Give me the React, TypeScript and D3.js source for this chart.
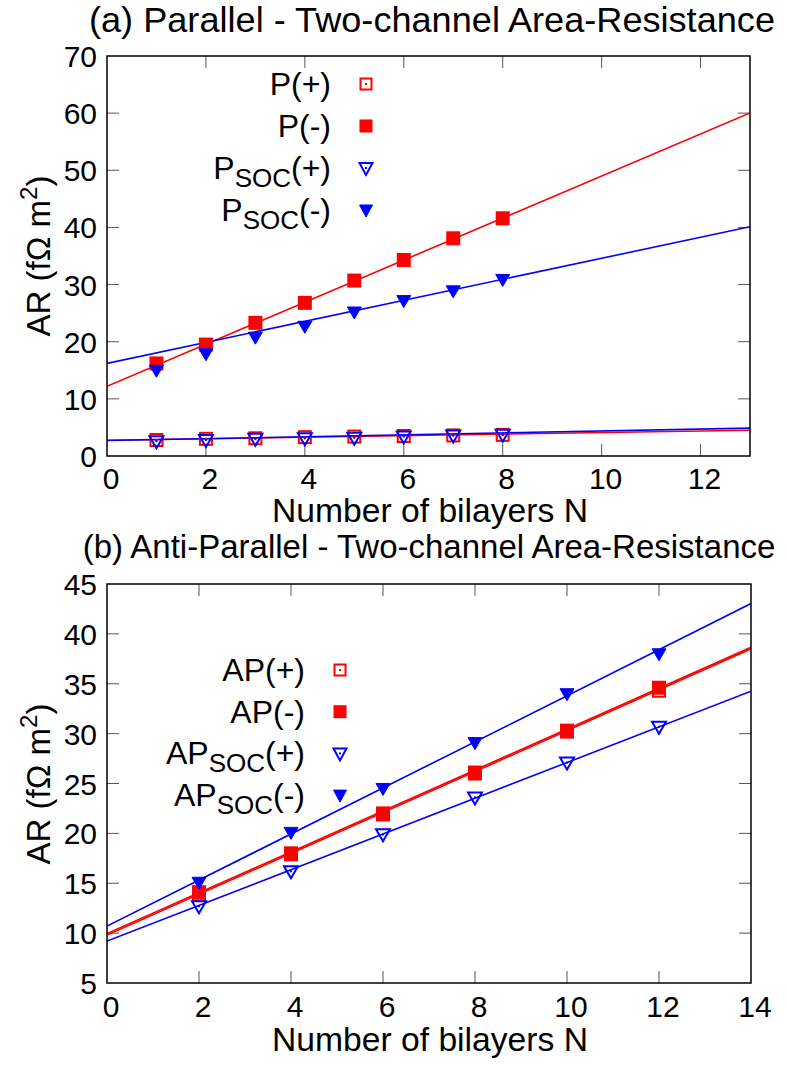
import React from "react";
import * as d3 from "d3";

// ---------- Panel (a) data ----------
const nA = [1, 2, 3, 4, 5, 6, 7, 8];
const pPlus = [2.8, 3.0, 3.1, 3.3, 3.4, 3.5, 3.6, 3.7];
const pMinus = [16.2, 19.5, 23.3, 26.8, 30.7, 34.3, 38.1, 41.6];
const pSocPlus = [2.6, 2.8, 3.0, 3.1, 3.2, 3.4, 3.6, 3.7];
const pSocMinus = [15.0, 17.9, 20.8, 22.7, 25.2, 27.2, 28.9, 30.9];
// fit lines: [intercept, slope]
const pPlusFit = [2.75, 0.135];
const pMinusFit = [12.2, 3.68];
const pSocPlusFit = [2.7, 0.168];
const pSocMinusFit = [16.2, 1.84];
const xTicksA = [0, 2, 4, 6, 8, 10, 12];
const yTicksA = [0, 10, 20, 30, 40, 50, 60, 70];

// ---------- Panel (b) data ----------
const nB = [2, 4, 6, 8, 10, 12];
const apPlus = [13.9, 17.9, 21.9, 26.0, 30.2, 34.3];
const apMinus = [14.1, 18.0, 22.0, 26.1, 30.3, 34.6];
const apSocPlus = [12.7, 16.2, 19.9, 23.6, 27.1, 30.7];
const apSocMinus = [15.1, 20.1, 24.5, 29.1, 34.0, 38.0];
const apPlusFit = [9.8, 2.05];
const apMinusFit = [9.95, 2.05];
const apSocPlusFit = [9.2, 1.79];
const apSocMinusFit = [10.7, 2.31];
const xTicksB = [0, 2, 4, 6, 8, 10, 12, 14];
const yTicksB = [5, 10, 15, 20, 25, 30, 35, 40, 45];

const RED = "#ff0000";
const BLUE = "#0000ff";
const FONT = "'Liberation Sans', Arial, Helvetica, sans-serif";

type Kind = "openSq" | "fillSq" | "openTri" | "fillTri";

function Marker({ kind, x, y, s = 14 }: { kind: Kind; x: number; y: number; s?: number }) {
  const h = s / 2;
  if (kind === "openSq" || kind === "fillSq") {
    const filled = kind === "fillSq";
    return (
      <g>
        <rect
          x={x - h + (filled ? 0 : 1)}
          y={y - h + (filled ? 0 : 1)}
          width={s - (filled ? 0 : 2)}
          height={s - (filled ? 0 : 2)}
          fill={filled ? RED : "none"}
          stroke={filled ? "none" : RED}
          strokeWidth={2}
        />
        {!filled && <rect x={x - 1} y={y - 1} width={2} height={2} fill={RED} />}
      </g>
    );
  }
  const filled = kind === "fillTri";
  const w = s / 2;
  const pts = `${x - w},${y - 5} ${x + w},${y - 5} ${x},${y + 7}`;
  return (
    <g>
      <polygon
        points={pts}
        fill={filled ? BLUE : "none"}
        stroke={BLUE}
        strokeWidth={filled ? 1 : 2}
        strokeLinejoin="miter"
      />
      {!filled && <rect x={x - 1} y={y - 1} width={2} height={2} fill={BLUE} />}
    </g>
  );
}

type Series = { ns: number[]; vals: number[]; fit: number[]; kind: Kind; color: string; main: string; sub?: string; tail: string };

function Panel({
  x, y, xmax, ticksX, ticksY, series, title, titleX, titleY, titleSize, titleLen, legX, legLabelX, legY0, legDy, xTickBase, xLabelBase, yLabelCenter,
}: {
  x: d3.ScaleLinear<number, number>;
  y: d3.ScaleLinear<number, number>;
  xmax: number;
  ticksX: number[];
  ticksY: number[];
  series: Series[];
  title: string;
  titleX: number;
  titleY: number;
  titleSize: number;
  titleLen?: number;
  legX: number;
  legLabelX: number;
  legY0: number;
  legDy: number;
  xTickBase: number;
  xLabelBase: number;
  yLabelCenter: number;
}) {
  const [x0, x1] = x.range();
  const [yb, yt] = y.range();
  const tick = 12;
  const cid = "clip" + title.slice(1, 2);
  return (
    <g fontFamily={FONT} fill="#000">
      {/* title */}
      <text
        x={titleX}
        y={titleY}
        textAnchor="middle"
        fontSize={titleSize}
        textLength={titleLen}
        lengthAdjust={titleLen ? "spacingAndGlyphs" : undefined}
      >
        {title}
      </text>
      {/* ticks */}
      {ticksX.map((t) => (
        <g key={"x" + t}>
          {t > 0 && t < xmax && (
            <>
              <line x1={x(t)} x2={x(t)} y1={yb} y2={yb - tick} stroke="#555" strokeWidth={1} />
              <line x1={x(t)} x2={x(t)} y1={yt} y2={yt + tick} stroke="#555" strokeWidth={1} />
            </>
          )}
          <text x={x(t) + 4} y={xTickBase} textAnchor="middle" fontSize={30}>
            {t}
          </text>
        </g>
      ))}
      {ticksY.map((t) => (
        <g key={"y" + t}>
          {t > y.domain()[0] && t < y.domain()[1] && (
            <>
              <line x1={x0} x2={x0 + tick} y1={y(t)} y2={y(t)} stroke="#555" strokeWidth={1} />
              <line x1={x1} x2={x1 - tick} y1={y(t)} y2={y(t)} stroke="#555" strokeWidth={1} />
            </>
          )}
          <text x={97} y={y(t) + 11} textAnchor="end" fontSize={30}>
            {t}
          </text>
        </g>
      ))}
      {/* axis labels */}
      <text x={430} y={xLabelBase} textAnchor="middle" fontSize={33} textLength={316} lengthAdjust="spacingAndGlyphs">
        Number of bilayers N
      </text>
      <text transform={`translate(50,${yLabelCenter}) rotate(-90)`} textAnchor="middle" fontSize={33}>
        AR (fΩ m<tspan dy={-13} fontSize={24}>2</tspan>
        <tspan dy={13}>)</tspan>
      </text>
      {/* fit lines and points */}
      <defs>
        <clipPath id={cid}>
          <rect x={x0} y={yt} width={x1 - x0} height={yb - yt} />
        </clipPath>
      </defs>
      <g clipPath={`url(#${cid})`}>
        {series.map((s, i) => (
          <path
            key={"l" + i}
            d={`M${x(0)},${y(s.fit[0])}L${x(xmax)},${y(s.fit[0] + s.fit[1] * xmax)}`}
            stroke={s.color}
            strokeWidth={1.6}
            fill="none"
          />
        ))}
        {series.map((s, i) => (
          <g key={"m" + i}>
            {s.ns.map((n, j) => (
              <Marker key={j} kind={s.kind} x={x(n)} y={y(s.vals[j])} />
            ))}
          </g>
        ))}
      </g>
      {/* frame */}
      <rect x={x0} y={yt} width={x1 - x0} height={yb - yt} fill="none" stroke="#000" strokeWidth={1.5} />
      {/* legend */}
      {series.map((s, i) => {
        const cy = legY0 + i * legDy;
        return (
          <g key={"lg" + i}>
            <text x={legLabelX} y={cy + 11} textAnchor="end" fontSize={32}>
              {s.main}
              {s.sub && (
                <tspan dy={8} fontSize={26}>
                  {s.sub}
                </tspan>
              )}
              <tspan dy={s.sub ? -8 : 0}>{s.tail}</tspan>
            </text>
            <Marker kind={s.kind} x={legX} y={cy} s={13} />
          </g>
        );
      })}
    </g>
  );
}

export default function App() {
  const xA = d3.scaleLinear().domain([0, 13]).range([107, 750]);
  const yA = d3.scaleLinear().domain([0, 70]).range([456, 56]);
  const xB = d3.scaleLinear().domain([0, 14]).range([107, 751]);
  const yB = d3.scaleLinear().domain([5, 45]).range([983, 584]);

  const seriesA: Series[] = [
    { ns: nA, vals: pPlus, fit: pPlusFit, kind: "openSq", color: RED, main: "P", tail: "(+)" },
    { ns: nA, vals: pMinus, fit: pMinusFit, kind: "fillSq", color: RED, main: "P", tail: "(-)" },
    { ns: nA, vals: pSocPlus, fit: pSocPlusFit, kind: "openTri", color: BLUE, main: "P", sub: "SOC", tail: "(+)" },
    { ns: nA, vals: pSocMinus, fit: pSocMinusFit, kind: "fillTri", color: BLUE, main: "P", sub: "SOC", tail: "(-)" },
  ];
  const seriesB: Series[] = [
    { ns: nB, vals: apPlus, fit: apPlusFit, kind: "openSq", color: RED, main: "AP", tail: "(+)" },
    { ns: nB, vals: apMinus, fit: apMinusFit, kind: "fillSq", color: RED, main: "AP", tail: "(-)" },
    { ns: nB, vals: apSocPlus, fit: apSocPlusFit, kind: "openTri", color: BLUE, main: "AP", sub: "SOC", tail: "(+)" },
    { ns: nB, vals: apSocMinus, fit: apSocMinusFit, kind: "fillTri", color: BLUE, main: "AP", sub: "SOC", tail: "(-)" },
  ];

  return (
    <svg width={787} height={1065} style={{ position: "absolute", left: 0, top: 0, background: "#fff" }}>
      <rect width={787} height={1065} fill="#fff" />
      <Panel
        x={xA}
        y={yA}
        xmax={13}
        ticksX={xTicksA}
        ticksY={yTicksA}
        series={seriesA}
        title="(a) Parallel - Two-channel Area-Resistance"
        titleX={432}
        titleY={32}
        titleSize={35}
        titleLen={686}
        legX={366}
        legLabelX={331}
        legY0={84}
        legDy={42}
        xTickBase={489}
        xLabelBase={522}
        yLabelCenter={256}
      />
      <Panel
        x={xB}
        y={yB}
        xmax={14}
        ticksX={xTicksB}
        ticksY={yTicksB}
        series={seriesB}
        title="(b) Anti-Parallel - Two-channel Area-Resistance"
        titleX={429}
        titleY={558}
        titleSize={33}
        legX={340}
        legLabelX={305}
        legY0={670}
        legDy={41.7}
        xTickBase={1017}
        xLabelBase={1051}
        yLabelCenter={784}
      />
    </svg>
  );
}
